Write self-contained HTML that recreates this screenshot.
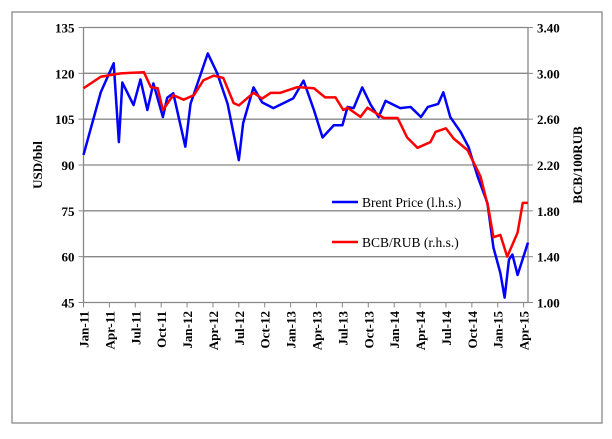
<!DOCTYPE html>
<html><head><meta charset="utf-8"><style>
body{margin:0;background:#fff;width:612px;height:434px;overflow:hidden}
svg text{font-family:"Liberation Serif",serif;font-weight:bold;font-size:13px;fill:#000}
</style></head><body>
<svg id="c" width="612" height="434">
<rect x="12" y="12" width="590" height="411" fill="none" stroke="#888" stroke-width="1.3"/>
<g id="grid"></g><g id="axes"></g><g id="series"></g>
<text x="0" y="0" transform="translate(42,165) rotate(-90)" text-anchor="middle">USD/bbl</text>
<text x="0" y="0" transform="translate(582,165) rotate(-90)" text-anchor="middle">BCB/100RUB</text>
<g>
<line x1="332" y1="202" x2="358" y2="202" stroke="#00f" stroke-width="2.5"/>
<text x="362" y="207" style="font-weight:normal;font-size:13.5px">Brent Price (l.h.s.)</text>
<line x1="332" y1="242" x2="358" y2="242" stroke="#f00" stroke-width="2.5"/>
<text x="362" y="247" style="font-weight:normal;font-size:13.5px">BCB/RUB (r.h.s.)</text>
</g>
</svg>
<script>
const xLabels=["Jan-11","Apr-11","Jul-11","Oct-11","Jan-12","Apr-12","Jul-12","Oct-12","Jan-13","Apr-13","Jul-13","Oct-13","Jan-14","Apr-14","Jul-14","Oct-14","Jan-15","Apr-15"];
const leftTicks=[45,60,75,90,105,120,135];
const rightTicks=["1.00","1.40","1.80","2.20","2.60","3.00","3.40"];
const brentMonths=[0,2,3.5,4.1,4.5,5.8,6.6,7.4,8.1,9.2,9.7,10.4,11.8,12.4,14.4,15.5,16.7,18,18.5,19.7,20.7,22,24.3,25.5,26.7,27.7,29,30,30.6,31.3,32.3,33.3,34.2,35,36.7,37.9,39.1,39.9,41.1,41.7,42.5,43.7,44.6,45.7,46.8,47.5,48.3,48.8,49.3,49.7,50.3,51.5];
const brentValues=[93.3,113.8,123.3,97.5,117,109.6,118,108,116.7,105.7,112,113.5,96,110,126.5,120,110,91.6,103.7,115.4,110.5,108.6,111.8,117.6,108,99,103,103,109,108.6,115.4,109.6,105.7,111,108.6,109,105.7,109,110,113.8,105.7,100.8,96,86,77.6,63,54.7,46.6,59,60.7,54,64.6];
const rubMonths=[0,2,4.3,7,7.8,8.6,9.2,10.4,11.6,12.8,13.9,15.1,16.2,17.4,18,19.7,20.7,21.7,22.8,24.8,26.7,28,29.2,30.1,30.6,32.1,32.9,34.8,36.4,37.5,38.7,40.2,40.8,42,42.9,44.5,46,46.9,47.5,48.3,49.1,50.3,50.9,51.5];
const rubValues=[2.87,2.97,3.0,3.01,2.88,2.87,2.68,2.81,2.77,2.81,2.94,2.98,2.96,2.74,2.72,2.83,2.78,2.83,2.83,2.88,2.87,2.79,2.79,2.68,2.70,2.62,2.70,2.61,2.61,2.44,2.35,2.40,2.49,2.52,2.43,2.33,2.10,1.83,1.57,1.59,1.40,1.61,1.87,1.87];

const L=83.5,R=528,T=27.5,B=302.5,NS="http://www.w3.org/2000/svg";
const xs=m=>L+m*8.63;
const yl=v=>B-(v-45)/90*(B-T);
const yr=v=>B-(v-1)/2.4*(B-T);
function mk(tag,attrs,parent){const e=document.createElementNS(NS,tag);for(const k in attrs)e.setAttribute(k,attrs[k]);document.getElementById(parent).appendChild(e);return e;}
leftTicks.forEach((v,i)=>{
  const y=yl(v);
  if(i>0){const g=mk('line',{x1:L,x2:R,y1:y,y2:y,stroke:'#888','stroke-width':1.3},'grid');
  
  }
  mk('line',{x1:L-5,x2:L,y1:y,y2:y,stroke:'#888'},'axes');
  mk('line',{x1:R,x2:R+5,y1:y,y2:y,stroke:'#888'},'axes');
  const t=mk('text',{x:L-9,y:y+5,'text-anchor':'end'},'axes');t.textContent=v;
  
  
  const t2=mk('text',{x:R+9,y:y+5},'axes');t2.textContent=rightTicks[i];
  
  
});
mk('line',{x1:L,x2:L,y1:T,y2:B,stroke:'#888','stroke-width':1.3},'axes');
mk('line',{x1:R,x2:R,y1:T,y2:B,stroke:'#888','stroke-width':1.3},'axes');
mk('line',{x1:L,x2:R,y1:B,y2:B,stroke:'#888','stroke-width':1.3},'axes');
xLabels.forEach((s,i)=>{
  const x=xs(i*3);
  mk('line',{x1:x,x2:x,y1:B,y2:B+5,stroke:'#888'},'axes');
  const t=mk('text',{transform:`translate(${x+5},311) rotate(-90)`,'text-anchor':'end'},'axes');t.textContent=s;
  
  
});
const pb=mk('polyline',{points:brentMonths.map((m,i)=>xs(m)+','+yl(brentValues[i])).join(' '),fill:'none',stroke:'#00f','stroke-width':2.5,'stroke-linejoin':'round'},'series');


const pr=mk('polyline',{points:rubMonths.map((m,i)=>xs(m)+','+yr(rubValues[i])).join(' '),fill:'none',stroke:'#f00','stroke-width':2.5,'stroke-linejoin':'round'},'series');


</script>
</body></html>
